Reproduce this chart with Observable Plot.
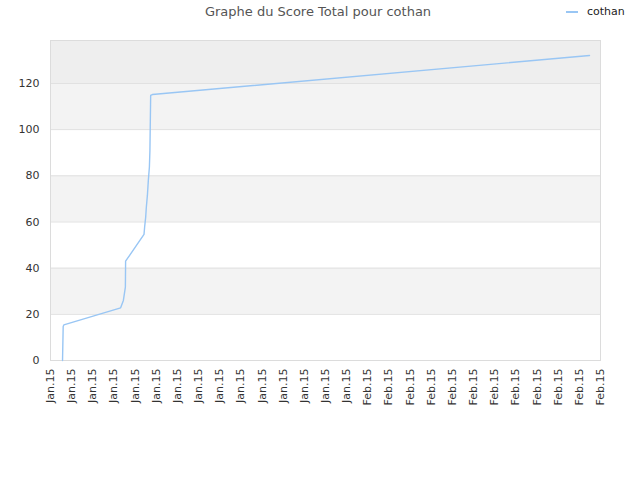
<!DOCTYPE html>
<html>
<head>
<meta charset="utf-8">
<script src="https://cdn.jsdelivr.net/npm/d3@7"></script>
<script src="https://cdn.jsdelivr.net/npm/@observablehq/plot@0.6"></script>
<style>
  body { margin: 0; background: #fff; font-family: "DejaVu Sans", sans-serif; }
  #wrap { position: relative; width: 640px; height: 480px; }
  #title { position: absolute; left: 0; width: 636px; top: 4px; text-align: center; font-size: 13px; color: #555; }
  #legend { position: absolute; left: 566px; top: 5px; font-size: 11px; color: #222; display: flex; align-items: center; }
  #legend span.sw { display: inline-block; width: 12px; height: 2px; background: #99c6f4; margin-right: 9px; }
</style>
</head>
<body>
<div id="wrap">
  <div id="chart"></div>
  <div id="title">Graphe du Score Total pour cothan</div>
  <div id="legend"><span class="sw"></span><span>cothan</span></div>
</div>
<script>
// Series: days after 2 Jan 2015, and total score
const seriesName = "cothan";
const dayOffsets = [1.137, 1.20, 1.26, 6.63, 6.89, 7.08, 7.10, 8.84, 8.90, 9.00, 9.06, 9.16, 9.25, 9.35, 9.40, 9.47, 9.63, 50.96];
const scores     = [0, 14.7, 15.4, 22.8, 26, 31.8, 43, 54.6, 57.8, 62.1, 66.4, 71.5, 78, 83.8, 91, 114.8, 115.2, 132.1];
// X tick labels (every 2 days from 2 Jan 2015)
const tickLabels = ["Jan.15","Jan.15","Jan.15","Jan.15","Jan.15","Jan.15","Jan.15","Jan.15","Jan.15","Jan.15","Jan.15","Jan.15","Jan.15","Jan.15","Jan.15",
                    "Feb.15","Feb.15","Feb.15","Feb.15","Feb.15","Feb.15","Feb.15","Feb.15","Feb.15","Feb.15","Feb.15","Feb.15"];
const yTicks = [0, 20, 40, 60, 80, 100, 120];
const bandLow = [20, 60, 100];
const bandHigh = [40, 80, 120];
const yMax = 138.6;

const start = new Date(Date.UTC(2015, 0, 2));
const DAY = 86400000;
const data = dayOffsets.map((d, i) => ({date: new Date(start.getTime() + d * DAY), score: scores[i]}));
const tickDates = tickLabels.map((_, i) => new Date(start.getTime() + 2 * i * DAY));
const bands = bandLow.map((lo, i) => ({lo, hi: bandHigh[i]}));

const chart = Plot.plot({
  width: 640,
  height: 480,
  marginTop: 40,
  marginLeft: 50,
  marginRight: 40,
  marginBottom: 120,
  style: {fontFamily: "DejaVu Sans, sans-serif", fontSize: "11px", color: "#333", background: "#fff"},
  x: {type: "utc", domain: [tickDates[0], tickDates[tickDates.length - 1]]},
  y: {domain: [0, yMax]},
  marks: [
    Plot.rectY(bands, {x1: tickDates[0], x2: tickDates[tickDates.length - 1], y1: "lo", y2: "hi", fill: "#f3f3f3"}),
    Plot.rectY([{lo: 120, hi: yMax}], {x1: tickDates[0], x2: tickDates[tickDates.length - 1], y1: "lo", y2: "hi", fill: "#eeeeee"}),
    Plot.ruleY(yTicks.slice(1), {stroke: "#e0e0e0", strokeWidth: 1}),
    Plot.frame({stroke: "#dcdcdc"}),
    Plot.axisY({ticks: yTicks, tickSize: 0, tickPadding: 11, label: null, fill: "#333"}),
    Plot.axisX({ticks: tickDates, tickFormat: (d, i) => tickLabels[i], tickRotate: -90, tickSize: 0, tickPadding: 8, label: null, fill: "#333"}),
    Plot.line(data, {x: "date", y: "score", stroke: "#99c6f4", strokeWidth: 1.4, curve: "linear"})
  ]
});
document.getElementById("chart").appendChild(chart);
</script>
</body>
</html>
